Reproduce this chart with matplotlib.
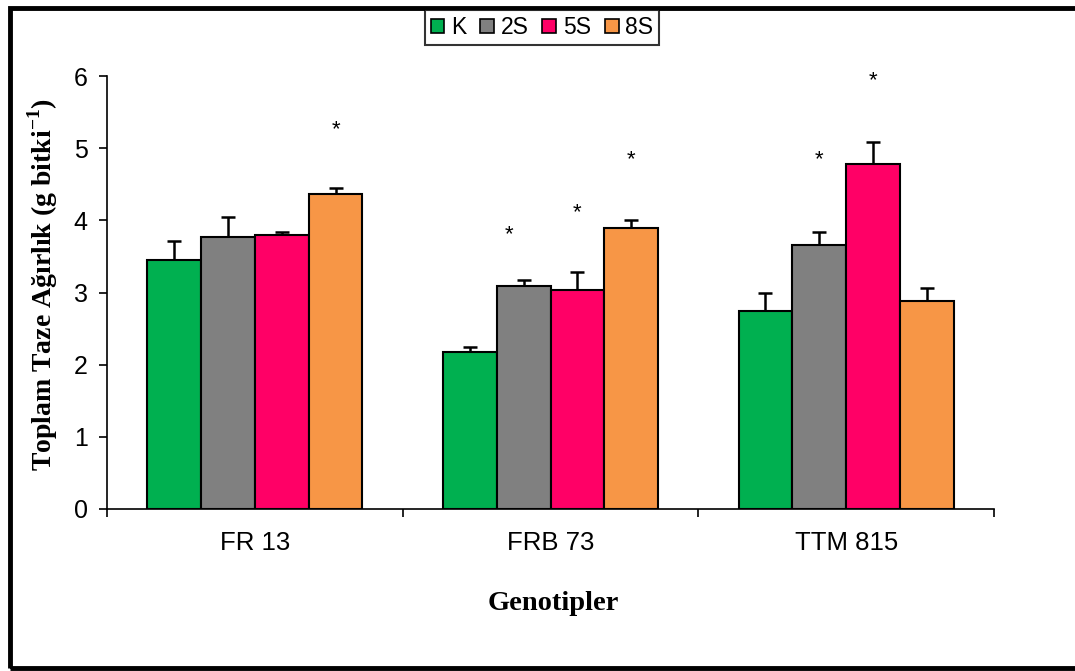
import numpy as np
import matplotlib
matplotlib.use("Agg")
import matplotlib.pyplot as plt
from matplotlib.patches import Rectangle, Patch

plt.rcParams['font.family'] = ['Liberation Sans', 'DejaVu Sans']
plt.rcParams['mathtext.fontset'] = 'custom'
plt.rcParams['mathtext.rm'] = 'Liberation Serif:bold'
plt.rcParams['mathtext.bf'] = 'Liberation Serif:bold'

genotypes = ["FR 13", "FRB 73", "TTM 815"]
series = ["K", "2S", "5S", "8S"]
colors = ["#00B050", "#808080", "#FF0066", "#F79646"]

# mean values, one list per treatment (FR 13, FRB 73, TTM 815)
vals_K = [3.45, 2.18, 2.75]
vals_2S = [3.77, 3.09, 3.66]
vals_5S = [3.79, 3.04, 4.78]
vals_8S = [4.37, 3.90, 2.88]
# upper error
err_K = [0.26, 0.07, 0.24]
err_2S = [0.28, 0.08, 0.18]
err_5S = [0.05, 0.24, 0.31]
err_8S = [0.08, 0.10, 0.18]

# significance stars: (genotype index, series index, y)
stars = [(0, 3, 5.25), (1, 1, 3.80), (1, 2, 4.11), (1, 3, 4.84),
         (2, 1, 4.84), (2, 2, 5.93)]

values = [vals_K, vals_2S, vals_5S, vals_8S]
errors = [err_K, err_2S, err_5S, err_8S]

fig = plt.figure(figsize=(10.75, 6.71), dpi=100)
ax = fig.add_axes([107/1075, 1-509/671, 887/1075, 433/671])

x = np.arange(len(genotypes))
w = 0.182
for i, s in enumerate(series):
    pos = x + (i - 1.5) * w
    ax.bar(pos, values[i], w, color=colors[i], edgecolor="black", linewidth=1.5,
           zorder=2)
    ax.errorbar(pos, values[i], yerr=[np.zeros(3), errors[i]], fmt="none",
                ecolor="black", elinewidth=1.8, capsize=5, capthick=1.8, zorder=1)

xoff = {(1, 1): -0.05}
for g, s, y in stars:
    ax.text(g + (s - 1.5) * w + xoff.get((g, s), 0), y, "*", ha="center",
            va="center", fontsize=16)

ax.set_xlim(-0.5, 2.5)
ax.set_ylim(0, 6)
ax.set_yticks(range(7))
ax.tick_params(axis="y", labelsize=18, length=6, width=1.2, pad=8, direction="out")
ax.set_xticks([-0.5, 0.5, 1.5, 2.5])
ax.set_xticklabels([])
ax.tick_params(axis="x", which="major", length=6, width=1.2, direction="out")
ax.set_xticks(x, minor=True)
ax.set_xticklabels(genotypes, minor=True)
ax.tick_params(axis="x", which="minor", length=0, labelsize=18.5, pad=16)
for sp in ["top", "right"]:
    ax.spines[sp].set_visible(False)
for sp in ["left", "bottom"]:
    ax.spines[sp].set_linewidth(1.2)

fig.text(43/1075, 1-285/671, r"Toplam Taze Ağırlık (g bitki$^{-1}$)", rotation=90,
         ha="center", va="center", fontsize=20, fontweight="bold",
         family="Liberation Serif")
fig.text(553/1075, 1-604/671, "Genotipler", ha="center", va="center",
         fontsize=20.5, fontweight="bold", family="Liberation Serif")

handles = [Patch(facecolor=c, edgecolor="black", linewidth=1.2) for c in colors]
leg = fig.legend(handles, series, loc="center", bbox_to_anchor=(542/1075, 1-27.5/671),
                 ncol=4, fontsize=16.5, frameon=True, fancybox=False,
                 handlelength=0.6, handleheight=0.6, handletextpad=0.3,
                 columnspacing=0.6, borderpad=0.25, borderaxespad=0)
leg.get_frame().set_edgecolor("black")
leg.get_frame().set_linewidth(1.5)

fig.patches.append(Rectangle((9.5/1075, 1-668/671), 1.2, (668-8)/671,
                             transform=fig.transFigure, fill=False,
                             edgecolor="black", linewidth=3.5, clip_on=False))

fig.savefig("out.png", dpi=100)
